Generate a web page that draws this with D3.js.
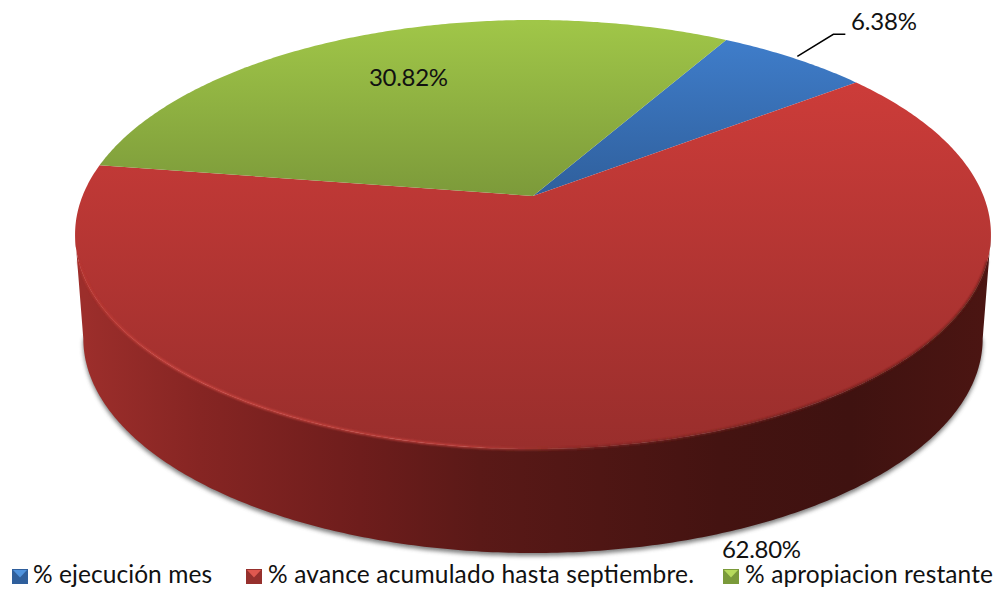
<!DOCTYPE html>
<html>
<head>
<meta charset="utf-8">
<script src="https://d3js.org/d3.v7.min.js"></script>
<style>
  html, body { margin: 0; padding: 0; background: #fff; overflow: hidden; }
  text { font-family: Lato, "Open Sans", sans-serif; fill: #111; }
</style>
</head>
<body>
<script type="text/javascript">
var categories = ["% ejecución mes", "% avance acumulado hasta septiembre.", "% apropiacion restante"];
var values = [6.38, 62.80, 30.82];
var valueLabels = ["6.38%", "62.80%", "30.82%"];

var w = 998, h = 591;

// top disc: apex of the pie and the perspective of the tilted circle
var apexX = 533, apexY = 196, radiusX = 450.5, radiusY = 207.6, persp = 0.1795;
// bottom disc, a bit narrower and further down
var baseY = 300, baseScaleX = 0.982;
var firstAngle = 29.7 * Math.PI / 180;

var topStops = [["#3f7dca", "#2f5f9c"], ["#cc3c39", "#992e2c"], ["#a0c648", "#7c9a3a"]];
var topRange = [[40, 196], [83, 449], [22, 196]];
var wallStops = [
  [85, "#9c2e2b"], [200, "#862523"], [360, "#6e1d1c"], [480, "#5a1917"],
  [600, "#4f1614"], [720, "#441311"], [850, "#3f1210"], [985, "#4b1512"]
];
var legendSwatchX = [12, 246, 723];
var legendTextX = [33, 268, 745];
var legendTextEnd = [212, 694, 993];
var swatchColors = [["#4f93de", "#2f5f9c"], ["#e0584f", "#96302d"], ["#b6da5c", "#7a9a3a"]];

var svg = d3.select("body").append("svg")
  .attr("width", w)
  .attr("height", h);

var defs = svg.append("defs");
defs.append("filter").attr("id", "soft").attr("x", "-5%").attr("y", "-5%").attr("width", "110%").attr("height", "110%")
  .append("feGaussianBlur").attr("stdDeviation", 2.2);
defs.append("filter").attr("id", "edge").attr("x", "-5%").attr("y", "-5%").attr("width", "110%").attr("height", "110%")
  .append("feGaussianBlur").attr("stdDeviation", 0.9);

function project(a, ox, oy, sx) {
  var d = 1 + persp * Math.cos(a);
  return [ox + sx * radiusX * Math.sin(a) / d, oy - radiusY * Math.cos(a) / d];
}
function topPoint(a) { return project(a, apexX, apexY, 1); }
function basePoint(a) { return project(a, apexX, baseY, baseScaleX); }

var line = d3.line();
function sweep(a0, a1, fn) {
  var n = Math.ceil(Math.abs(a1 - a0) / 0.01);
  return d3.range(n + 1).map(function(i) { return fn(a0 + (a1 - a0) * i / n); });
}

var arcs = d3.pie().sort(null).startAngle(firstAngle).endAngle(firstAngle + 2 * Math.PI)(values);

// side wall only shows between the two silhouette points of the top disc
var wallA0 = Math.acos(-persp), wallA1 = 2 * Math.PI - wallA0;
var wallPts = sweep(wallA0, wallA1, topPoint).concat(sweep(wallA1, wallA0, basePoint));
// shadow starts lower down, it should not peek out next to the top disc
var shadowPts = sweep(wallA0 + 0.3, wallA1 - 0.3, topPoint).concat(sweep(wallA1, wallA0, basePoint));

var wallGrad = defs.append("linearGradient").attr("id", "wall")
  .attr("gradientUnits", "userSpaceOnUse").attr("x1", 0).attr("x2", w).attr("y1", 0).attr("y2", 0);
wallGrad.selectAll("stop").data(wallStops).enter().append("stop")
  .attr("offset", function(d) { return d[0] / w; })
  .attr("stop-color", function(d) { return d[1]; });

// shadow under the pie
svg.append("path")
  .attr("d", line(shadowPts) + "Z")
  .attr("transform", "translate(0,3)")
  .attr("fill", "#555")
  .attr("opacity", 0.75)
  .attr("filter", "url(#soft)");

svg.append("path")
  .attr("d", line(wallPts) + "Z")
  .attr("fill", "url(#wall)");

arcs.forEach(function(d, i) {
  var g = defs.append("linearGradient").attr("id", "top" + i)
    .attr("gradientUnits", "userSpaceOnUse")
    .attr("x1", 0).attr("x2", 0).attr("y1", topRange[i][0]).attr("y2", topRange[i][1]);
  g.append("stop").attr("offset", 0).attr("stop-color", topStops[i][0]);
  g.append("stop").attr("offset", 1).attr("stop-color", topStops[i][1]);
});

svg.selectAll("path.slice")
  .data(arcs)
  .enter()
  .append("path")
  .attr("class", "slice")
  .attr("d", function(d) {
    return line([[apexX, apexY]].concat(sweep(d.startAngle, d.endAngle, topPoint))) + "Z";
  })
  .attr("fill", function(d, i) { return "url(#top" + i + ")"; });

// bevel on the front rim: light on the left, fading out, dark on the right
var rimGrad = defs.append("linearGradient").attr("id", "rim")
  .attr("gradientUnits", "userSpaceOnUse").attr("x1", 75).attr("x2", 990).attr("y1", 0).attr("y2", 0);
rimGrad.append("stop").attr("offset", 0).attr("stop-color", "#b8352f");
rimGrad.append("stop").attr("offset", 0.1).attr("stop-color", "#d24a44");
rimGrad.append("stop").attr("offset", 0.42).attr("stop-color", "#c8443f");
rimGrad.append("stop").attr("offset", 0.56).attr("stop-color", "#7a2421");
rimGrad.append("stop").attr("offset", 1).attr("stop-color", "#5a1a17");
svg.append("path")
  .attr("d", line(sweep(wallA0 + 0.12, wallA1 - 0.12, topPoint)))
  .attr("fill", "none")
  .attr("stroke", "url(#rim)")
  .attr("stroke-width", 2)
  .attr("filter", "url(#edge)");

// leader line of the small slice
var mid = (arcs[0].startAngle + arcs[0].endAngle) / 2;
var anchor = topPoint(mid);
svg.append("path")
  .attr("d", line([[anchor[0] + 3, anchor[1] - 2], [anchor[0] + 39, anchor[1] - 24], [anchor[0] + 51, anchor[1] - 24]]))
  .attr("fill", "none")
  .attr("stroke", "#000")
  .attr("stroke-width", 1.5);

var labelX = [851, 722, 369], labelY = [30, 558, 86], labelEnd = [917, 801, 448];
svg.selectAll("text.value")
  .data(valueLabels)
  .enter()
  .append("text")
  .attr("class", "value")
  .attr("x", function(d, i) { return labelX[i]; })
  .attr("y", function(d, i) { return labelY[i]; })
  .attr("font-size", 24)
  .attr("textLength", function(d, i) { return labelEnd[i] - labelX[i]; })
  .text(function(d) { return d; });

// legend
var swatch = svg.selectAll("g.swatch")
  .data(categories)
  .enter()
  .append("g")
  .attr("class", "swatch")
  .attr("transform", function(d, i) { return "translate(" + legendSwatchX[i] + ",569)"; });
swatch.append("path")
  .attr("d", line([[0, 0], [16, 0], [16, 15], [0, 15]]) + "Z")
  .attr("fill", function(d, i) { return swatchColors[i][1]; });
swatch.append("path")
  .attr("d", line([[1, 1], [15, 1], [8, 8.5]]) + "Z")
  .attr("fill", function(d, i) { return swatchColors[i][0]; });

svg.selectAll("text.legend")
  .data(categories)
  .enter()
  .append("text")
  .attr("class", "legend")
  .attr("x", function(d, i) { return legendTextX[i]; })
  .attr("y", 583)
  .attr("font-size", 24.5)
  .attr("textLength", function(d, i) { return legendTextEnd[i] - legendTextX[i]; })
  .text(function(d) { return d; });
</script>
</body>
</html>
